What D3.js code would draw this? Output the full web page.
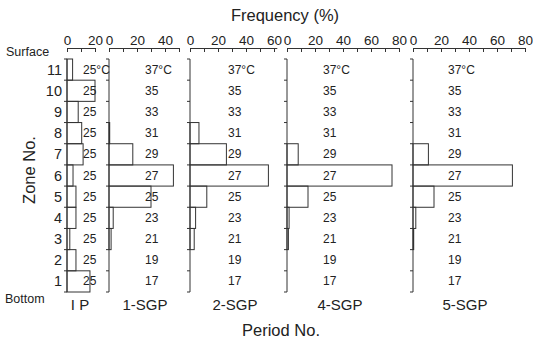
<!DOCTYPE html>
<html>
<head>
<meta charset="utf-8">
<script src="https://cdn.jsdelivr.net/npm/d3@7"></script>
<style>
  body { margin: 0; background: #fff; }
  text { font-family: "Liberation Sans", Arial, sans-serif; fill: #222; }
</style>
</head>
<body>
<div id="chart"></div>
<script>
// zones listed top (11, surface) to bottom (1)
const zones = [11, 10, 9, 8, 7, 6, 5, 4, 3, 2, 1];
const periods = ['I P', '1-SGP', '2-SGP', '4-SGP', '5-SGP'];

// frequency (%) per zone, zone 11 first
const freqIP   = [4, 20, 8, 10.5, 11.5, 4.3, 6.4, 6.4, 2, 6.4, 16.4];
const freqSGP1 = [0, 0, 0, 0.5, 17, 46, 30, 3, 1.5, 0, 0];
const freqSGP2 = [0, 0, 0, 6.4, 26, 56, 12, 4, 3, 0, 0];
const freqSGP4 = [0, 0, 0, 0, 8, 75, 15, 1.5, 1, 0, 0];
const freqSGP5 = [0, 0, 0, 0, 11, 71, 15, 2, 0.5, 0, 0];
const freqs = [freqIP, freqSGP1, freqSGP2, freqSGP4, freqSGP5];

// temperature labels per zone
const tempIP  = ['25°C', '25', '25', '25', '25', '25', '25', '25', '25', '25', '25'];
const tempSGP = ['37°C', '35', '33', '31', '29', '27', '25', '23', '21', '19', '17'];
const temps = [tempIP, tempSGP, tempSGP, tempSGP, tempSGP];

// axis extent per panel (%)
const axisMax = [20, 50, 62, 80, 80];

let width = 533, height = 339;
let svg = d3.select('#chart').append('svg')
    .attr('width', width)
    .attr('height', height);

let panelX = [67, 109, 190, 287, 413];
let tempX = [83, 145, 228, 323, 448];
let labelX = [80, 145, 235, 340, 465];
let pxPerPct = 1.4;
let axisY = 48;

let y = d3.scaleBand()
    .domain(zones)
    .range([59, 292])
    .padding(0);

// titles
svg.append('text')
    .attr('x', 285).attr('y', 21)
    .attr('text-anchor', 'middle')
    .style('font-size', '16.5px')
    .text('Frequency (%)');

svg.append('text')
    .attr('x', 281).attr('y', 336)
    .attr('text-anchor', 'middle')
    .style('font-size', '16.5px')
    .text('Period No.');

svg.append('text')
    .attr('transform', 'translate(35,170) rotate(-90)')
    .attr('text-anchor', 'middle')
    .style('font-size', '16.5px')
    .text('Zone No.');

svg.append('text')
    .attr('x', 6).attr('y', 56)
    .style('font-size', '12.5px')
    .text('Surface');

svg.append('text')
    .attr('x', 5).attr('y', 303)
    .style('font-size', '12.5px')
    .text('Bottom');

// zone numbers
svg.append('g').selectAll('text')
    .data(zones)
    .enter().append('text')
    .attr('x', 62)
    .attr('y', d => y(d) + y.bandwidth() / 2 + 5)
    .attr('text-anchor', 'end')
    .style('font-size', '14.5px')
    .text(d => d);

periods.forEach((p, i) => {
    let x0 = panelX[i];
    let x = d3.scaleLinear()
        .domain([0, axisMax[i]])
        .range([x0, x0 + axisMax[i] * pxPerPct]);

    let g = svg.append('g').attr('class', 'panel');

    // top axis, ticks hanging down
    let axis = d3.axisTop(x)
        .tickValues(d3.range(0, axisMax[i] + 1, 10))
        .tickFormat(d => d % 20 === 0 ? d : '')
        .tickSizeInner(-4)
        .tickSizeOuter(0)
        .tickPadding(3);

    let ax = g.append('g')
        .attr('transform', `translate(0,${axisY})`)
        .call(axis);
    ax.selectAll('path, line').attr('stroke', '#333');
    ax.selectAll('text')
        .style('font-size', '13.5px')
        .style('font-family', '"Liberation Sans", Arial, sans-serif')
        .attr('fill', '#222');

    // bars
    g.selectAll('rect')
        .data(freqs[i])
        .enter().append('rect')
        .attr('x', x(0))
        .attr('y', (d, j) => y(zones[j]))
        .attr('width', d => x(d) - x(0))
        .attr('height', y.bandwidth())
        .attr('fill', 'none')
        .attr('stroke', '#333')
        .attr('stroke-width', 1);

    // vertical bracket with ticks at zone boundaries
    let top = y.range()[0], bot = y.range()[1];
    g.append('path')
        .attr('d', `M${x0 - 3},${top}H${x0}V${bot}H${x0 - 3}`)
        .attr('fill', 'none')
        .attr('stroke', '#333');
    g.selectAll('line.bnd')
        .data(zones.slice(1))
        .enter().append('line')
        .attr('class', 'bnd')
        .attr('x1', x0 - 3).attr('x2', x0)
        .attr('y1', d => y(d)).attr('y2', d => y(d))
        .attr('stroke', '#333');

    // temperature labels
    g.selectAll('text.temp')
        .data(temps[i])
        .enter().append('text')
        .attr('class', 'temp')
        .attr('x', tempX[i])
        .attr('y', (d, j) => y(zones[j]) + y.bandwidth() / 2 + 4)
        .style('font-size', '12px')
        .text(d => d);

    // period label
    g.append('text')
        .attr('x', labelX[i]).attr('y', 310)
        .attr('text-anchor', 'middle')
        .style('font-size', '15px')
        .text(p);
});
</script>
</body>
</html>
